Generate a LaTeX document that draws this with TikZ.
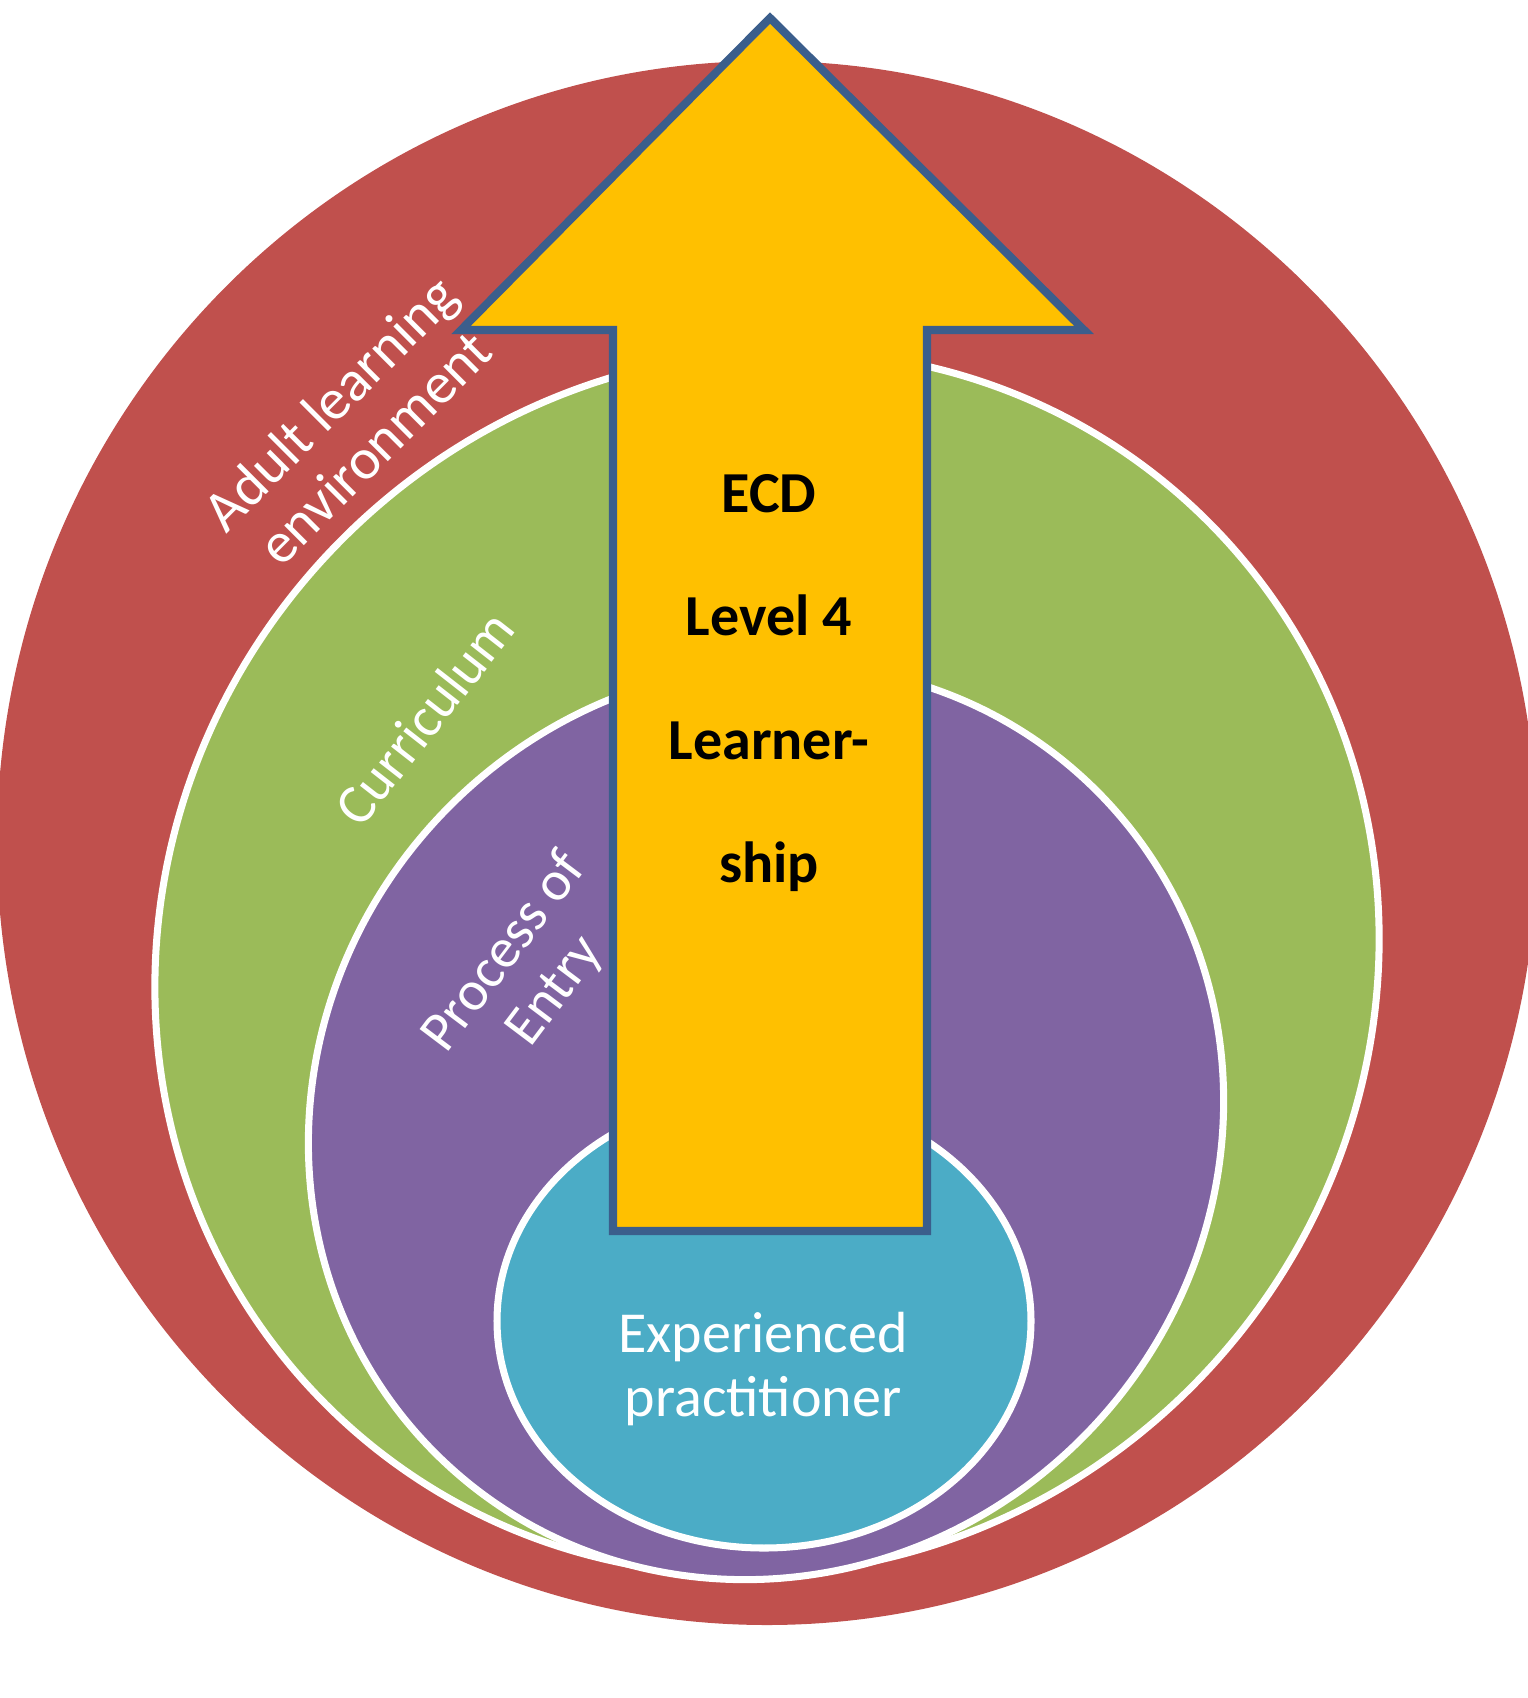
\documentclass[tikz,border=0pt]{standalone}
\usepackage{fontspec}
\setmainfont{Carlito}
\definecolor{envred}{HTML}{C0504D}
\definecolor{curgreen}{HTML}{9BBB59}
\definecolor{entpurple}{HTML}{8064A2}
\definecolor{praccyan}{HTML}{4BACC6}
\definecolor{arrowfill}{HTML}{FFC000}
\definecolor{arrowline}{HTML}{3B5E8C}
\tikzset{
  ring/.style={draw=white, line width=2pt},
  lbl/.style={text=white, align=center, font=\fontsize{16.5}{18}\selectfont},
  boldlbl/.style={text=black, align=center, font=\fontsize{16.5}{35}\selectfont\bfseries}
}
\begin{document}
\begin{tikzpicture}[x=0.01cm, y=-0.01cm]
  \useasboundingbox (0,0) rectangle (1527,1698);
  \fill[envred] (767,843) ellipse [x radius=770, y radius=782];
  \filldraw[ring, fill=curgreen, rotate around={45:(767,963)}] (767,963) ellipse [x radius=624, y radius=600];
  \filldraw[ring, fill=entpurple, rotate around={45:(766,1122)}] (766,1122) ellipse [x radius=468, y radius=447];
  \filldraw[ring, fill=praccyan] (764,1321) ellipse [x radius=267, y radius=227];
  \filldraw[fill=arrowfill, draw=arrowline, line width=2.3pt, line join=miter]
    (770,18) -- (1084,330) -- (927,330) -- (927,1231) -- (613,1231) -- (613,330) -- (461,330) -- cycle;
  \node[lbl, rotate=45] (adult) at (352,425) {Adult learning\\environment};
  \node[lbl, rotate=52, font=\fontsize{16}{18}\selectfont] (curric) at (424,718) {Curriculum};
  \node[lbl, rotate=53, font=\fontsize{16}{18}\selectfont] (entry) at (530,972) {Process of\\Entry};
  \node[lbl] (pract) at (763,1369) {Experienced\\practitioner};
  \node[boldlbl] (ecd) at (769,683) {ECD\\Level 4\\Learner-\\ship};
\end{tikzpicture}
\end{document}
